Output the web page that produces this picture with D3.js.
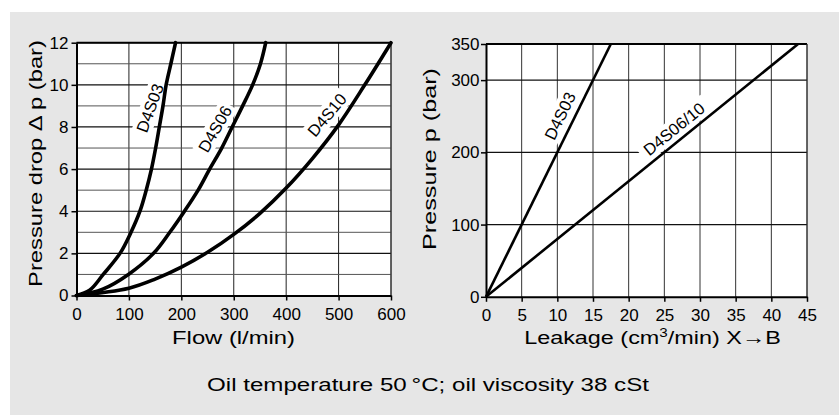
<!DOCTYPE html>
<html><head><meta charset="utf-8">
<script src="https://cdn.jsdelivr.net/npm/d3@7"></script>
<style>body{margin:0;background:#fff}svg{display:block}text{font-family:"Liberation Sans",Arial,Helvetica,sans-serif;fill:#000}</style>
</head><body>
<script>
// ---- data ----
const flowTicks = [0,100,200,300,400,500,600];
const dpTicks = [0,2,4,6,8,10,12];
const dpMinor = [1,3,5,7,9,11];
const d4s03Flow = [0,25,51,83,104,121,133,143,151,158,165,171,180,189];
const d4s03Dp   = [0,0.25,1,2,3,4,5,6,7,8,9,10,11,12];
const d4s06Flow = [0,50,99,147,178,206,232,254,277,297,317,336,351,361];
const d4s06Dp   = [0,0.3,1,2,3,4,5,6,7,8,9,10,11,12];
const d4s10Flow = [0,100,150,200,250,300,350,400,450,500,550,600];
const d4s10Dp   = [0,0.35,0.78,1.35,2.05,2.9,3.9,5.1,6.5,8.1,10,12];
const leakTicks = [0,5,10,15,20,25,30,35,40,45];
const pTicks = [0,100,200,300,350];
const leak03 = [0,17.5];
const p03 = [0,350];
const leak0610 = [0,43.75];
const p0610 = [0,350];

const W=839,H=416;
const svg=d3.select("body").append("svg").attr("width",W).attr("height",H);
svg.append("rect").attr("x",10).attr("y",12).attr("width",W-10).attr("height",H-13).attr("fill","#e6e6e6");

// text fitted to a target length along its reading direction
function fitText(parent,cx,cy,angle,size,target,build){
  const g=parent.append("g");
  const t=g.append("text").attr("font-size",size).attr("text-anchor","middle");
  build(t);
  const w=t.node().getComputedTextLength();
  const sx=target/w;
  g.attr("transform",`translate(${cx},${cy}) rotate(${angle}) scale(${sx},1)`);
  return g;
}

// ---- left chart ----
const xL=d3.scaleLinear().domain([0,600]).range([76.5,391]);
const yL=d3.scaleLinear().domain([0,12]).range([295.5,42.7]);
const gL=svg.append("g");
gL.append("rect").attr("x",xL(0)).attr("y",yL(12)).attr("width",xL(600)-xL(0)).attr("height",yL(0)-yL(12)).attr("fill","#fff");
gL.selectAll(".vg").data(flowTicks.slice(1)).join("line").attr("x1",d=>xL(d)).attr("x2",d=>xL(d)).attr("y1",yL(0)).attr("y2",yL(12)).attr("stroke","#222").attr("stroke-width",1);
gL.selectAll(".hg").data(dpTicks.slice(1)).join("line").attr("x1",xL(0)).attr("x2",xL(600)).attr("y1",d=>yL(d)).attr("y2",d=>yL(d)).attr("stroke","#111").attr("stroke-width",1.2);
gL.selectAll(".hm").data(dpMinor).join("line").attr("x1",xL(0)).attr("x2",xL(600)).attr("y1",d=>yL(d)).attr("y2",d=>yL(d)).attr("stroke","#555").attr("stroke-width",1);
gL.append("line").attr("x1",xL(0)).attr("x2",xL(600)).attr("y1",yL(12)).attr("y2",yL(12)).attr("stroke","#000").attr("stroke-width",2);
gL.append("line").attr("x1",xL(600)).attr("x2",xL(600)).attr("y1",yL(12)).attr("y2",yL(0)).attr("stroke","#333").attr("stroke-width",1);

const labelsL=[
 {t:"D4S03",x:150,y:108,a:-70,w:56},
 {t:"D4S06",x:215,y:129,a:-60,w:56},
 {t:"D4S10",x:327,y:115,a:-50,w:56}
];
const labelsR=[
 {t:"D4S03",x:560,y:116,a:-64,w:56},
 {t:"D4S06/10",x:674,y:129,a:-39,w:84}
];
function labelBg(g,arr){
  arr.forEach(l=>{
    g.append("rect").attr("x",-l.w/2).attr("y",-10).attr("width",l.w).attr("height",20).attr("fill","#fff")
     .attr("transform",`translate(${l.x},${l.y}) rotate(${l.a})`);
  });
}
function labelTxt(g,arr){
  arr.forEach(l=>{
    g.append("text").text(l.t).attr("font-size",16.5).attr("text-anchor","middle").attr("dy","0.35em")
     .attr("transform",`translate(${l.x},${l.y}) rotate(${l.a})`);
  });
}
labelBg(gL,labelsL);

const lineL=d3.line().x(d=>xL(d[0])).y(d=>yL(d[1])).curve(d3.curveCatmullRom.alpha(0.5));
[[d4s03Flow,d4s03Dp],[d4s06Flow,d4s06Dp],[d4s10Flow,d4s10Dp]].forEach(([fx,fy])=>{
  gL.append("path").attr("d",lineL(fx.map((v,i)=>[v,fy[i]]))).attr("fill","none").attr("stroke","#000").attr("stroke-width",3.6).attr("stroke-linecap","round");
});
labelTxt(gL,labelsL);

function styleAxis(a){
  a.select(".domain").attr("stroke","#000").attr("stroke-width",2);
  a.selectAll(".tick line").attr("stroke","#000").attr("stroke-width",1.5);
  a.selectAll("text").attr("font-size",17).attr("font-family","Liberation Sans, Arial, sans-serif").attr("fill","#000");
}
styleAxis(gL.append("g").attr("transform",`translate(0,${yL(0)})`).call(d3.axisBottom(xL).tickValues(flowTicks).tickSize(5).tickPadding(7).tickSizeOuter(0)));
styleAxis(gL.append("g").attr("transform",`translate(${xL(0)},0)`).call(d3.axisLeft(yL).tickValues(dpTicks).tickSize(5).tickPadding(3).tickSizeOuter(0)));

fitText(svg,233.5,344,0,18.5,123,t=>t.text("Flow (l/min)"));
fitText(svg,42,163.5,-90,18.5,247,t=>t.text("Pressure drop \u0394 p  (bar)"));

// ---- right chart ----
const xR=d3.scaleLinear().domain([0,45]).range([486,807]);
const yR=d3.scaleLinear().domain([0,350]).range([296.8,44]);
const gR=svg.append("g");
gR.append("rect").attr("x",xR(0)).attr("y",yR(350)).attr("width",xR(45)-xR(0)).attr("height",yR(0)-yR(350)).attr("fill","#fff");
gR.selectAll(".vg").data(leakTicks.slice(1)).join("line").attr("x1",d=>xR(d)).attr("x2",d=>xR(d)).attr("y1",yR(0)).attr("y2",yR(350)).attr("stroke","#333").attr("stroke-width",1);
gR.selectAll(".hg").data(pTicks.slice(1)).join("line").attr("x1",xR(0)).attr("x2",xR(45)).attr("y1",d=>yR(d)).attr("y2",d=>yR(d)).attr("stroke","#111").attr("stroke-width",1.2);
gR.append("line").attr("x1",xR(0)).attr("x2",xR(45)).attr("y1",yR(350)).attr("y2",yR(350)).attr("stroke","#000").attr("stroke-width",2);
gR.append("line").attr("x1",xR(45)).attr("x2",xR(45)).attr("y1",yR(350)).attr("y2",yR(0)).attr("stroke","#333").attr("stroke-width",1);

labelBg(gR,labelsR);
const lineR=d3.line().x(d=>xR(d[0])).y(d=>yR(d[1]));
[[leak03,p03],[leak0610,p0610]].forEach(([lx,ly])=>{
  gR.append("path").attr("d",lineR(lx.map((v,i)=>[v,ly[i]]))).attr("fill","none").attr("stroke","#000").attr("stroke-width",2.6);
});
labelTxt(gR,labelsR);

styleAxis(gR.append("g").attr("transform",`translate(0,${yR(0)})`).call(d3.axisBottom(xR).tickValues(leakTicks).tickSize(5).tickPadding(7).tickSizeOuter(0)));
styleAxis(gR.append("g").attr("transform",`translate(${xR(0)},0)`).call(d3.axisLeft(yR).tickValues(pTicks).tickSize(5).tickPadding(1.5).tickSizeOuter(0)));

fitText(svg,652.5,344,0,18.5,257,t=>{
  t.append("tspan").text("Leakage (cm");
  t.append("tspan").text("3").attr("font-size",12).attr("dy",-7);
  t.append("tspan").text("/min) X\u2192B").attr("dy",7);
});
fitText(svg,436,159,-90,18.5,182,t=>t.text("Pressure p  (bar)"));

fitText(svg,428,391,0,18.5,442,t=>t.text("Oil temperature 50\u2009\u00B0C; oil viscosity 38 cSt"));
</script>
</body></html>
